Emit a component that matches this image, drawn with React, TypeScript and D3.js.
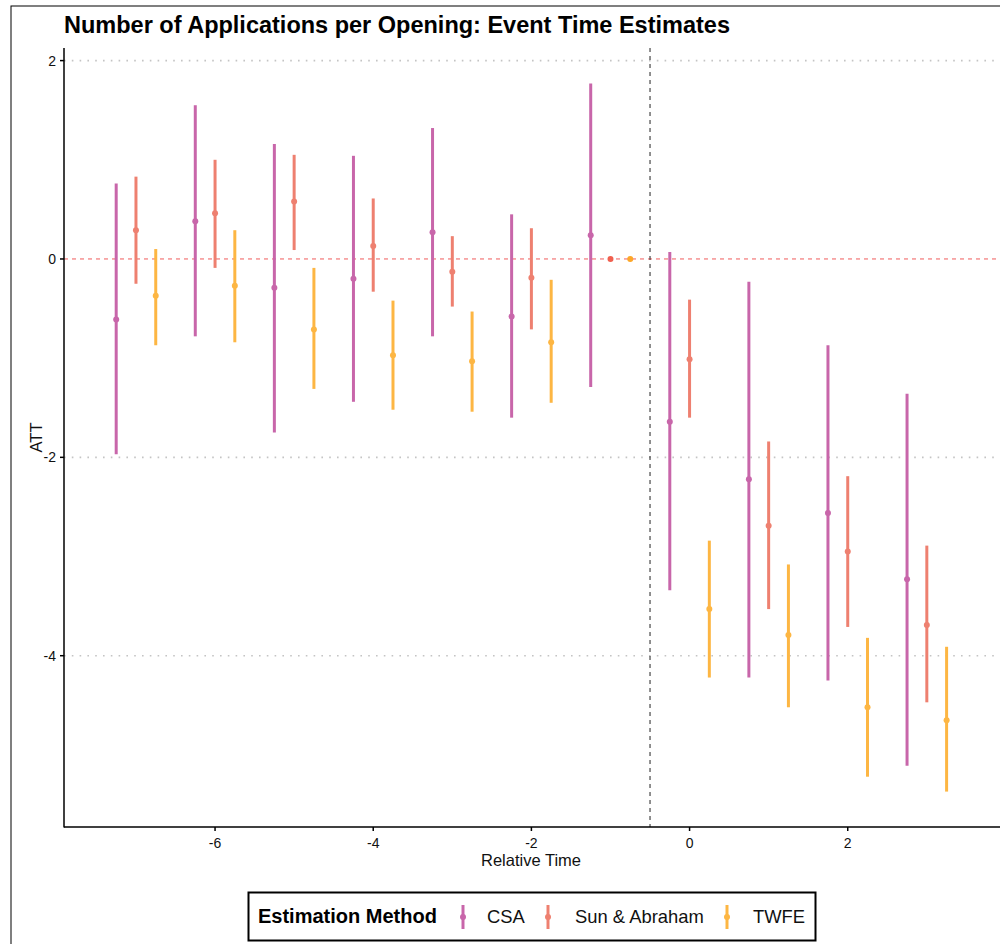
import React from 'react';
import * as d3 from 'd3';

const relTime = [-7, -6, -5, -4, -3, -2, -1, 0, 1, 2, 3];

const csaEst = [-0.61, 0.38, -0.29, -0.2, 0.27, -0.58, 0.24, -1.64, -2.22, -2.56, -3.23];
const csaLo = [-1.97, -0.78, -1.75, -1.44, -0.78, -1.6, -1.29, -3.34, -4.22, -4.25, -5.11];
const csaHi = [0.76, 1.55, 1.16, 1.04, 1.32, 0.45, 1.77, 0.07, -0.23, -0.87, -1.36];

const saEst = [0.29, 0.46, 0.58, 0.13, -0.13, -0.19, 0, -1.01, -2.69, -2.95, -3.69];
const saLo = [-0.25, -0.09, 0.09, -0.33, -0.48, -0.71, null, -1.6, -3.53, -3.71, -4.47];
const saHi = [0.83, 1.0, 1.05, 0.61, 0.23, 0.31, null, -0.41, -1.84, -2.19, -2.89];

const twfeEst = [-0.37, -0.27, -0.71, -0.97, -1.03, -0.84, 0, -3.53, -3.79, -4.52, -4.65];
const twfeLo = [-0.87, -0.84, -1.31, -1.52, -1.54, -1.45, null, -4.22, -4.52, -5.22, -5.37];
const twfeHi = [0.1, 0.29, -0.09, -0.42, -0.53, -0.21, null, -2.84, -3.08, -3.82, -3.91];

const methods = ['CSA', 'Sun & Abraham', 'TWFE'];
const methodColors = ['#C866AA', '#EE8070', '#FDB643'];
// reference-period points (no interval) come out more saturated
const refColors = ['#B12A90', '#F0604F', '#FDA728'];
const xTicks = [-6, -4, -2, 0, 2];
const yTicks = [2, 0, -2, -4];

const series = [
  { name: 'CSA', est: csaEst, lo: csaLo, hi: csaHi, offset: -0.25 },
  { name: 'Sun & Abraham', est: saEst, lo: saLo, hi: saHi, offset: 0 },
  { name: 'TWFE', est: twfeEst, lo: twfeLo, hi: twfeHi, offset: 0.25 },
];

const font = '"Liberation Sans", Arial, Helvetica, sans-serif';

export default function App() {
  const left = 64, right = 998, top = 48, bottom = 827;
  const x = d3.scaleLinear().domain([-7.91, 3.9]).range([left, right]);
  const y = d3.scaleLinear().domain([-5.727, 2.127]).range([bottom, top]);
  const color = d3.scaleOrdinal<string, string>().domain(methods).range(methodColors);
  const refColor = d3.scaleOrdinal<string, string>().domain(methods).range(refColors);

  return (
    <svg width={1000} height={944} style={{ position: 'absolute', left: 0, top: 0 }} fontFamily={font}>
      <rect x={0} y={0} width={1000} height={944} fill="white" />
      <rect x={11} y={6} width={1000} height={1000} fill="none" stroke="#000" strokeWidth={1} />

      {/* grid */}
      {yTicks.filter(t => t !== 0).map(t => (
        <line key={t} x1={left} x2={right} y1={y(t)} y2={y(t)} stroke="#c4c4c4" strokeWidth={1.6} strokeDasharray="1.6 6.2" />
      ))}

      {/* reference lines */}
      <line x1={left} x2={right} y1={y(0)} y2={y(0)} stroke="#F05A5A" strokeWidth={1} strokeDasharray="4 4" />
      <line x1={x(-0.5)} x2={x(-0.5)} y1={top} y2={bottom} stroke="#222" strokeWidth={1} strokeDasharray="4 4" />

      {/* point ranges */}
      {series.map(s => (
        <g key={s.name}>
          {relTime.map((t, i) => {
            const cx = x(t + s.offset);
            const lo = s.lo[i];
            const hi = s.hi[i];
            const c = color(s.name);
            return (
              <g key={t}>
                {lo !== null && hi !== null && (
                  <line x1={cx} x2={cx} y1={y(lo)} y2={y(hi)} stroke={c} strokeWidth={3} />
                )}
                <circle cx={cx} cy={y(s.est[i])} r={3} fill={lo === null ? refColor(s.name) : c} />
              </g>
            );
          })}
        </g>
      ))}

      {/* axes */}
      <line x1={left} x2={left} y1={top} y2={bottom + 0.5} stroke="#000" strokeWidth={1.5} />
      <line x1={left} x2={right + 2} y1={bottom} y2={bottom} stroke="#000" strokeWidth={1.5} />
      {yTicks.map(t => (
        <g key={t}>
          <line x1={left - 4} x2={left} y1={y(t)} y2={y(t)} stroke="#000" strokeWidth={1.5} />
          <text x={left - 8} y={y(t)} dy="0.36em" textAnchor="end" fontSize={14} fill="#111">{t}</text>
        </g>
      ))}
      {xTicks.map(t => (
        <g key={t}>
          <line x1={x(t)} x2={x(t)} y1={bottom} y2={bottom + 4} stroke="#000" strokeWidth={1.5} />
          <text x={x(t)} y={bottom + 21} textAnchor="middle" fontSize={14} fill="#111">{t}</text>
        </g>
      ))}

      <text x={(left + right) / 2} y={866} textAnchor="middle" fontSize={16.5} fill="#111">Relative Time</text>
      <text transform={`translate(42,${(top + bottom) / 2}) rotate(-90)`} textAnchor="middle" fontSize={16.5} fill="#111">ATT</text>
      <text x={64} y={33} fontSize={23.5} fontWeight="bold" fill="#000">Number of Applications per Opening: Event Time Estimates</text>

      {/* legend */}
      <rect x={248.5} y={892.5} width={567} height={48} fill="white" stroke="#000" strokeWidth={2} />
      <text x={258} y={923} fontSize={20} fontWeight="bold" fill="#000">Estimation Method</text>
      {methods.map((m, i) => {
        const kx = [463, 548, 727][i];
        const tx = [487, 575, 753][i];
        return (
          <g key={m}>
            <line x1={kx} x2={kx} y1={905} y2={929} stroke={color(m)} strokeWidth={3} />
            <circle cx={kx} cy={917} r={3} fill={color(m)} />
            <text x={tx} y={923} fontSize={18.4} fill="#111">{m}</text>
          </g>
        );
      })}
    </svg>
  );
}
